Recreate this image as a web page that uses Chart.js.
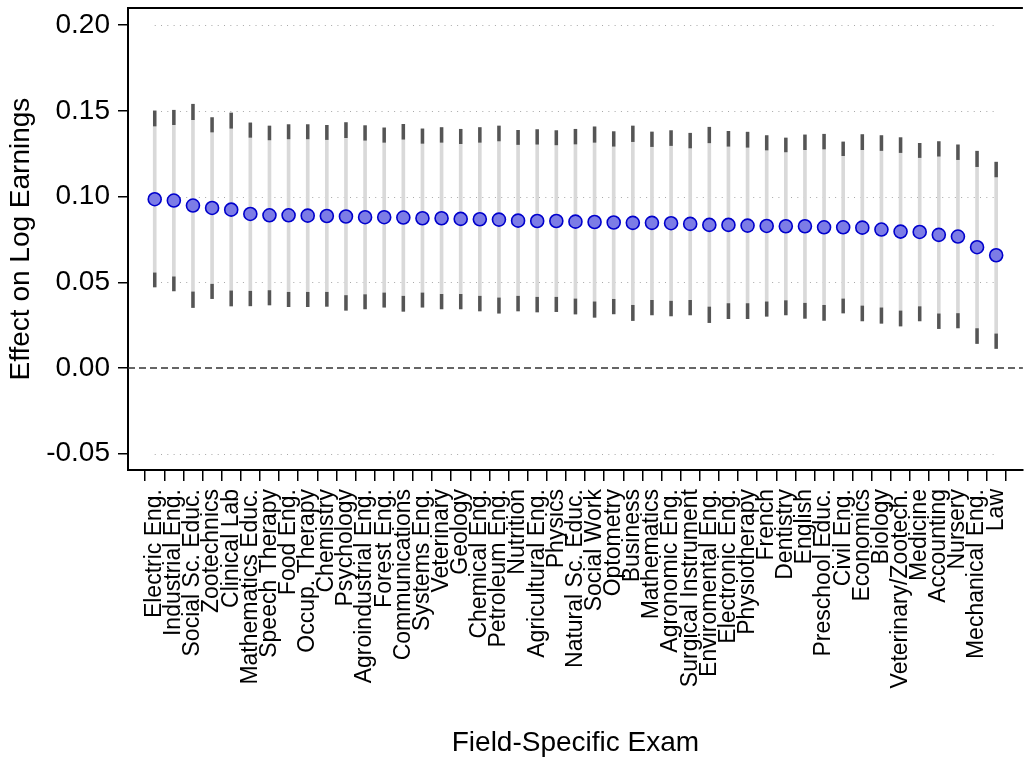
<!DOCTYPE html>
<html>
<head>
<meta charset="utf-8">
<script src="https://cdn.jsdelivr.net/npm/chart.js@4.4.1/dist/chart.umd.min.js"></script>
<style>
  html, body { margin: 0; padding: 0; background: #fff; overflow: hidden; }
  #wrap { width: 1031px; height: 760px; position: relative; }
</style>
</head>
<body>
<div id="wrap"><canvas id="myChart"></canvas></div>
<script>
const categories = [
  'Electric Eng.', 'Industrial Eng.', 'Social Sc. Educ.', 'Zootechnics', 'Clinical Lab',
  'Mathematics Educ.', 'Speech Therapy', 'Food Eng.', 'Occup. Therapy', 'Chemistry',
  'Psychology', 'Agroindustrial Eng.', 'Forest Eng.', 'Communications', 'Systems Eng.',
  'Veterinary', 'Geology', 'Chemical Eng.', 'Petroleum Eng.', 'Nutrition',
  'Agricultural Eng.', 'Physics', 'Natural Sc. Educ.', 'Social Work', 'Optometry',
  'Business', 'Mathematics', 'Agronomic Eng.', 'Surgical Instrument', 'Enviromental Eng.',
  'Electronic Eng.', 'Physiotherapy', 'French', 'Dentistry', 'English',
  'Preschool Educ.', 'Civil Eng.', 'Economics', 'Biology', 'Veterinary/Zootech.',
  'Medicine', 'Accounting', 'Nursery', 'Mechanical Eng.', 'Law',
];

// point estimates
const estimates = [
  0.0985, 0.0977, 0.0948, 0.0934, 0.0924, 0.0899, 0.0891, 0.0891, 0.0889, 0.0887,
  0.0884, 0.0880, 0.0880, 0.0878, 0.0874, 0.0874, 0.0870, 0.0868, 0.0866, 0.0860,
  0.0858, 0.0858, 0.0854, 0.0852, 0.0849, 0.0847, 0.0847, 0.0845, 0.0841, 0.0835,
  0.0835, 0.0831, 0.0829, 0.0827, 0.0827, 0.0821, 0.0821, 0.0819, 0.0808, 0.0796,
  0.0794, 0.0777, 0.0767, 0.0705, 0.0658,
];

// outer interval ends
const hi95 = [
  0.1500, 0.1504, 0.1539, 0.1461, 0.1488, 0.1430, 0.1412, 0.1420, 0.1420, 0.1416,
  0.1432, 0.1414, 0.1401, 0.1422, 0.1395, 0.1403, 0.1393, 0.1403, 0.1412, 0.1387,
  0.1391, 0.1385, 0.1393, 0.1407, 0.1379, 0.1412, 0.1377, 0.1385, 0.1370, 0.1405,
  0.1381, 0.1376, 0.1356, 0.1342, 0.1360, 0.1364, 0.1319, 0.1362, 0.1356, 0.1344,
  0.1311, 0.1321, 0.1302, 0.1265, 0.1201,
];
const lo95 = [
  0.0473, 0.0450, 0.0353, 0.0405, 0.0362, 0.0363, 0.0368, 0.0358, 0.0358, 0.0360,
  0.0337, 0.0345, 0.0355, 0.0331, 0.0355, 0.0345, 0.0345, 0.0333, 0.0320, 0.0333,
  0.0327, 0.0329, 0.0315, 0.0296, 0.0316, 0.0277, 0.0310, 0.0304, 0.0310, 0.0265,
  0.0288, 0.0288, 0.0302, 0.0310, 0.0290, 0.0278, 0.0321, 0.0275, 0.0261, 0.0245,
  0.0275, 0.0230, 0.0234, 0.0143, 0.0114,
];

// inner interval ends (where the dark caps begin)
const hi90 = [
  0.1412, 0.1420, 0.1449, 0.1377, 0.1399, 0.1346, 0.1331, 0.1337, 0.1337, 0.1333,
  0.1344, 0.1329, 0.1317, 0.1335, 0.1311, 0.1317, 0.1309, 0.1317, 0.1325, 0.1304,
  0.1306, 0.1302, 0.1307, 0.1317, 0.1294, 0.1321, 0.1292, 0.1298, 0.1284, 0.1314,
  0.1294, 0.1288, 0.1272, 0.1261, 0.1274, 0.1278, 0.1239, 0.1274, 0.1269, 0.1257,
  0.1228, 0.1236, 0.1216, 0.1175, 0.1115,
];
const lo90 = [
  0.0555, 0.0532, 0.0444, 0.0489, 0.0450, 0.0448, 0.0452, 0.0442, 0.0442, 0.0442,
  0.0423, 0.0428, 0.0438, 0.0419, 0.0438, 0.0430, 0.0430, 0.0419, 0.0409, 0.0419,
  0.0413, 0.0413, 0.0403, 0.0386, 0.0401, 0.0366, 0.0395, 0.0390, 0.0395, 0.0356,
  0.0376, 0.0376, 0.0386, 0.0393, 0.0378, 0.0366, 0.0403, 0.0362, 0.0351, 0.0333,
  0.0358, 0.0316, 0.0318, 0.0230, 0.0199,
];

const yTicks = [-0.05, 0, 0.05, 0.10, 0.15, 0.20];

const FONT = "'Liberation Sans', Arial, sans-serif";

const pos = categories.map((c, i) => i + 1);

// dotted grid, dashed zero line and top frame line
const framePlugin = {
  id: 'frame',
  beforeDatasetsDraw(chart) {
    const { ctx, chartArea, scales } = chart;
    const x0 = scales.x.getPixelForValue(1);
    const x1 = scales.x.getPixelForValue(categories.length);
    ctx.save();
    ctx.lineWidth = 1.2;
    ctx.strokeStyle = '#a8a8a8';
    ctx.setLineDash([1, 5.3]);
    yTicks.forEach((t) => {
      if (t === 0) return;
      const y = Math.round(scales.y.getPixelForValue(t)) + 0.5;
      ctx.beginPath();
      ctx.moveTo(x0, y);
      ctx.lineTo(x1, y);
      ctx.stroke();
    });
    ctx.strokeStyle = '#333';
    ctx.lineWidth = 1.3;
    ctx.setLineDash([7, 4]);
    const yz = scales.y.getPixelForValue(0);
    ctx.beginPath();
    ctx.moveTo(chartArea.left, yz);
    ctx.lineTo(chartArea.right, yz);
    ctx.stroke();
    ctx.restore();
  },
  afterDraw(chart) {
    const { ctx, chartArea } = chart;
    ctx.save();
    ctx.strokeStyle = '#000';
    ctx.lineWidth = 2;
    ctx.beginPath();
    ctx.moveTo(chartArea.left - 1, chartArea.top);
    ctx.lineTo(chartArea.right, chartArea.top);
    ctx.stroke();
    ctx.restore();
  },
};

const data = {
  datasets: [
    {
      type: 'scatter',
      order: 0,
      data: pos.map((x, i) => ({ x, y: estimates[i] })),
      pointRadius: 6.5,
      pointBackgroundColor: '#7c7ce6',
      pointBorderColor: '#0000cc',
      pointBorderWidth: 1.6,
    },
    {
      type: 'bar',
      order: 1,
      grouped: false,
      data: pos.map((x, i) => ({ x, y: [hi90[i], hi95[i]] })),
      backgroundColor: '#555555',
      barThickness: 2.8,
      borderWidth: 0,
    },
    {
      type: 'bar',
      order: 1,
      grouped: false,
      data: pos.map((x, i) => ({ x, y: [lo95[i], lo90[i]] })),
      backgroundColor: '#555555',
      barThickness: 2.8,
      borderWidth: 0,
    },
    {
      type: 'bar',
      order: 2,
      grouped: false,
      data: pos.map((x, i) => ({ x, y: [lo95[i], hi95[i]] })),
      backgroundColor: '#d9d9d9',
      barThickness: 3,
      borderWidth: 0,
    },
  ],
};

const config = {
  type: 'bar',
  data: data,
  plugins: [framePlugin],
  options: {
    responsive: true,
    maintainAspectRatio: false,
    animation: false,
    layout: { padding: { left: 0, right: 0, top: 8, bottom: 0 } },
    plugins: {
      legend: { display: false },
      tooltip: { enabled: false },
    },
    scales: {
      x: {
        type: 'linear',
        min: 0.123,
        max: 45.877,
        afterBuildTicks: (axis) => {
          axis.ticks = pos.map((v) => ({ value: v }));
        },
        afterFit: (scale) => {
          scale.height = 290;
          scale.paddingLeft = 0;
          scale.paddingRight = 0;
        },
        ticks: {
          autoSkip: false,
          minRotation: 90,
          maxRotation: 90,
          padding: 8,
          color: '#000',
          font: { family: FONT, size: 23 },
          callback: (v) => categories[Math.round(v) - 1] || '',
        },
        grid: {
          drawOnChartArea: false,
          drawTicks: true,
          tickLength: 11,
          color: '#000',
          lineWidth: 1.5,
        },
        border: { display: true, color: '#000', width: 2 },
        title: {
          display: true,
          text: 'Field-Specific Exam',
          color: '#000',
          font: { family: FONT, size: 28 },
          padding: { top: 0, bottom: 0 },
        },
      },
      y: {
        min: -0.0595,
        max: 0.21,
        afterBuildTicks: (axis) => {
          axis.ticks = yTicks.map((v) => ({ value: v }));
        },
        afterFit: (scale) => {
          scale.width = 128;
          scale.paddingTop = 0;
          scale.paddingBottom = 0;
        },
        ticks: {
          padding: 8,
          color: '#000',
          font: { family: FONT, size: 28 },
          callback: (v) => v.toFixed(2),
        },
        grid: {
          drawOnChartArea: false,
          drawTicks: true,
          tickLength: 10,
          color: '#000',
          lineWidth: 1.5,
        },
        border: { display: true, color: '#000', width: 2 },
        title: {
          display: true,
          text: 'Effect on Log Earnings',
          color: '#000',
          font: { family: FONT, size: 28 },
          padding: { top: 4, bottom: 0 },
        },
      },
    },
  },
};

const myChart = new Chart(document.querySelector('#myChart'), config);
</script>
</body>
</html>
